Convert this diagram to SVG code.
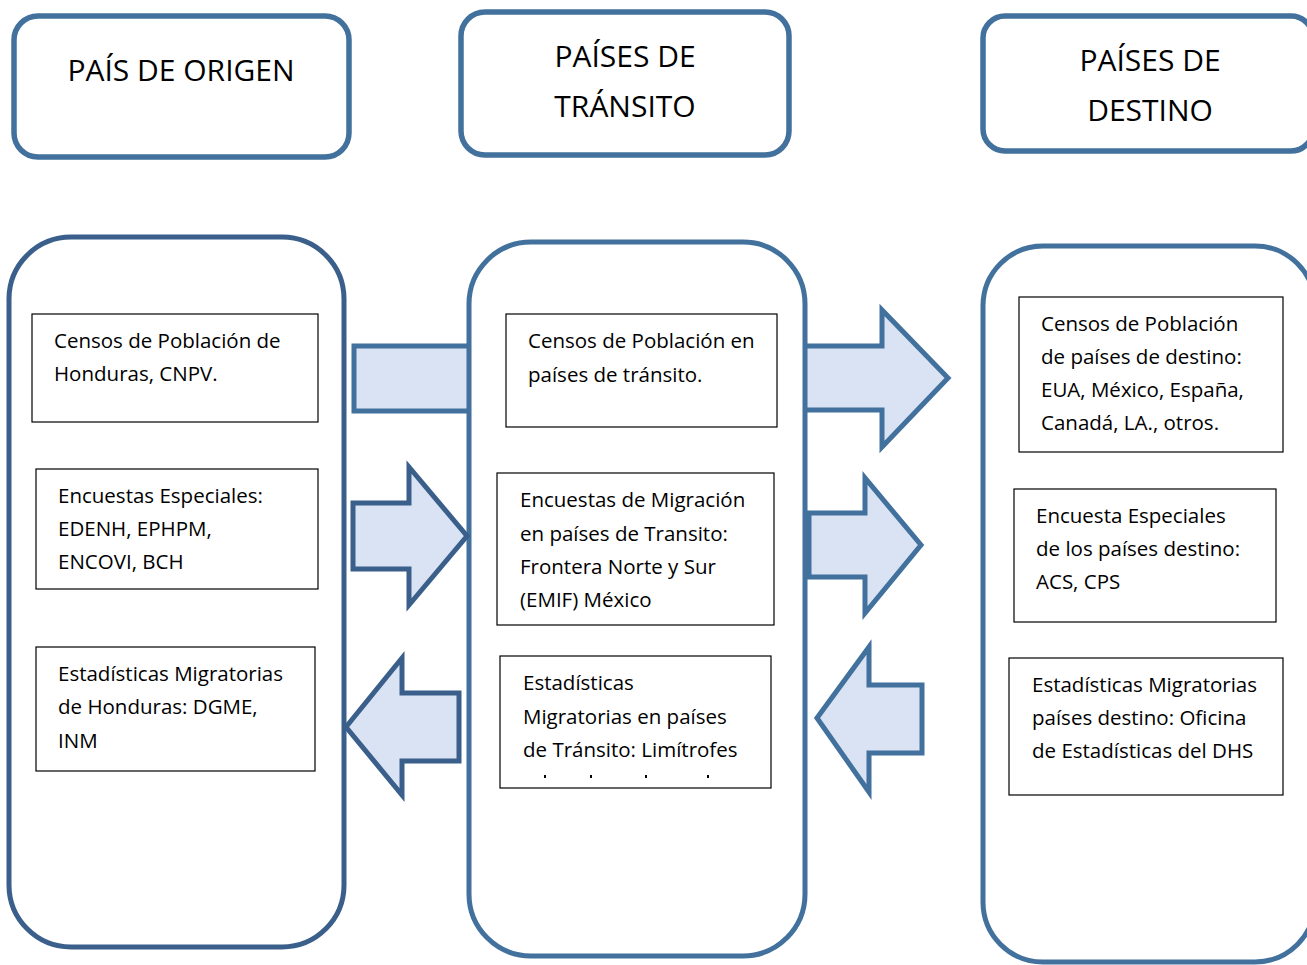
<svg xmlns="http://www.w3.org/2000/svg" width="1307" height="965" viewBox="0 0 1307 965">
<style>
.hdr{fill:#fff;stroke:#41719C;stroke-width:5.5}
.col{fill:#fff;stroke:#41719C;stroke-width:5}
.colL{fill:#fff;stroke:#3A5F8B;stroke-width:5}
.box{fill:#fff;stroke:#000;stroke-width:1.2}
.arr{fill:#DAE3F3;stroke:#41719C;stroke-width:5;stroke-linejoin:miter}
.arrL{fill:#DAE3F3;stroke:#3A5F8B;stroke-width:5;stroke-linejoin:miter}
.t{font-family:"Open Sans","Liberation Sans",sans-serif;font-size:20.5px;fill:#000}
.h{font-family:"Open Sans","Liberation Sans",sans-serif;font-size:30px;fill:#000;text-anchor:middle}
</style>
<rect width="1307" height="965" fill="#fff"/>

<g id="headers">
<g id="hdr-origen"><rect class="hdr" x="14" y="16" width="335" height="141" rx="24"/><text class="h" x="181" y="81">PAÍS DE ORIGEN</text></g>
<g id="hdr-transito"><rect class="hdr" x="461" y="12" width="328" height="143" rx="24"/><text class="h" x="625" y="67">PAÍSES DE</text><text class="h" x="625" y="117">TRÁNSITO</text></g>
<g id="hdr-destino"><rect class="hdr" x="983" y="16" width="330" height="135" rx="22"/><text class="h" x="1150" y="71">PAÍSES DE</text><text class="h" x="1150" y="121">DESTINO</text></g>
</g>

<g id="connectors-back">
<rect class="arr" x="354" y="346" width="125" height="65"/>
<path class="arr" d="M790,346 H882 V310 L948,378 L882,447 V410 H790 Z"/>
</g>

<g id="columns">
<g id="col-origen"><rect class="colL" x="9" y="237" width="335" height="710" rx="62"/></g>
<g id="col-transito"><rect class="col" x="469" y="242" width="336" height="714" rx="62"/></g>
<g id="col-destino"><rect class="col" x="983" y="246" width="332" height="716" rx="60"/></g>
</g>

<g id="connectors">
<path class="arrL" d="M353,503 H409 V467 L467,536 L409,605 V569 H353 Z"/>
<path class="arrL" d="M346,727 L402,658 V693 H459 V761 H402 V795 Z"/>
<path class="arr" d="M809,513 H865 V478 L921,545 L865,613 V577 H809 Z"/>
<path class="arr" d="M817,718 L869,647 V685 H922 V753 H869 V792 Z"/>
</g>

<g id="n1"><rect class="box" x="32" y="314" width="286" height="108"/>
<text class="t" x="54" y="348">Censos de Población de</text><text class="t" x="54" y="381">Honduras, CNPV.</text></g>
<g id="n2"><rect class="box" x="36" y="469" width="282" height="120"/>
<text class="t" x="58" y="503">Encuestas Especiales:</text><text class="t" x="58" y="536">EDENH, EPHPM,</text><text class="t" x="58" y="569">ENCOVI, BCH</text></g>
<g id="n3"><rect class="box" x="36" y="647" width="279" height="124"/>
<text class="t" x="58" y="681">Estadísticas Migratorias</text><text class="t" x="58" y="714">de Honduras: DGME,</text><text class="t" x="58" y="748">INM</text></g>

<g id="n4"><rect class="box" x="506" y="314" width="271" height="113"/>
<text class="t" x="528" y="348">Censos de Población en</text><text class="t" x="528" y="382">países de tránsito.</text></g>
<g id="n5"><rect class="box" x="497" y="473" width="277" height="152"/>
<text class="t" x="520" y="507">Encuestas de Migración</text><text class="t" x="520" y="541">en países de Transito:</text><text class="t" x="520" y="574">Frontera Norte y Sur</text><text class="t" x="520" y="607">(EMIF) México</text></g>
<g id="n6"><rect class="box" x="500" y="656" width="271" height="132"/>
<text class="t" x="523" y="690">Estadísticas</text><text class="t" x="523" y="724">Migratorias en países</text><text class="t" x="523" y="757">de Tránsito: Limítrofes</text>
<g fill="#000"><rect x="544" y="775" width="2" height="3"/><rect x="590" y="775" width="2" height="3"/><rect x="645" y="775" width="2" height="3"/><rect x="707" y="775" width="2" height="3"/></g></g>

<g id="n7"><rect class="box" x="1019" y="297" width="264" height="155"/>
<text class="t" x="1041" y="331">Censos de Población</text><text class="t" x="1041" y="364">de países de destino:</text><text class="t" x="1041" y="397">EUA, México, España,</text><text class="t" x="1041" y="430">Canadá, LA., otros.</text></g>
<g id="n8"><rect class="box" x="1014" y="489" width="262" height="133"/>
<text class="t" x="1036" y="523">Encuesta Especiales</text><text class="t" x="1036" y="556">de los países destino:</text><text class="t" x="1036" y="589">ACS, CPS</text></g>
<g id="n9"><rect class="box" x="1009" y="658" width="274" height="137"/>
<text class="t" x="1032" y="692">Estadísticas Migratorias</text><text class="t" x="1032" y="725">países destino: Oficina</text><text class="t" x="1032" y="758">de Estadísticas del DHS</text></g>
</svg>
